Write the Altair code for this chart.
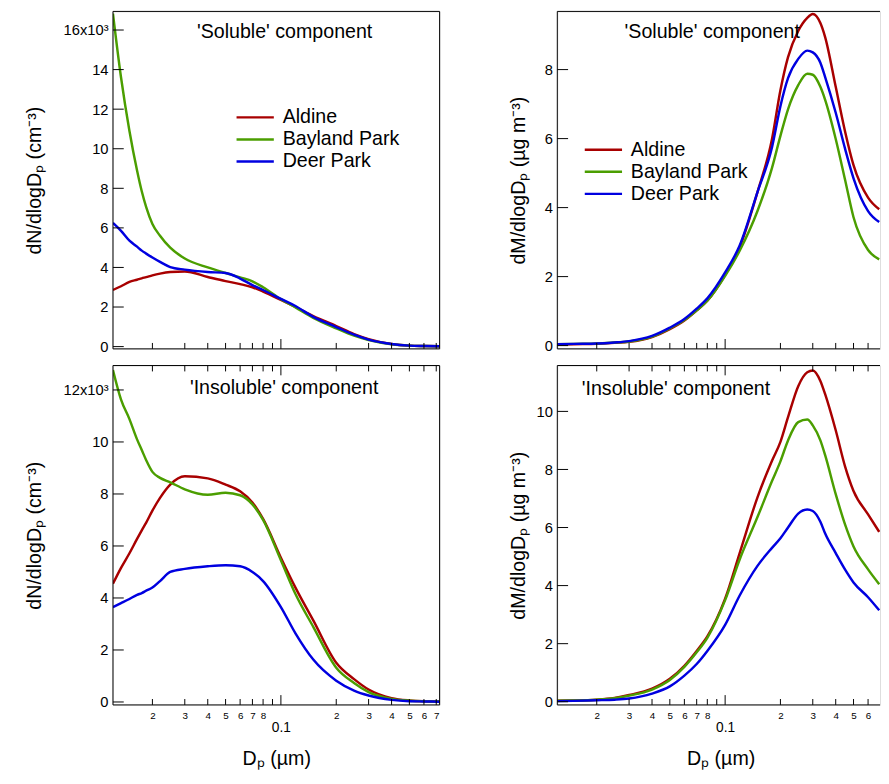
import altair as alt
import pandas as pd

FONT = "Liberation Sans"
SITES = ["Aldine", "Bayland Park", "Deer Park"]
COLORS = ["#a80000", "#4b9e00", "#0000e0"]

# ---------------- data ----------------
# Left top: dN/dlogDp, 'Soluble' component (units of 10^3 cm^-3)
lt_d = [0.0122, 0.0135, 0.015, 0.0165, 0.0175, 0.0185, 0.02, 0.022, 0.025, 0.03, 0.04,
        0.05, 0.06, 0.07, 0.08, 0.1, 0.12, 0.15, 0.2, 0.25, 0.3, 0.4, 0.5, 0.6, 0.73]
lt_aldine = [2.86, 3.05, 3.27, 3.38, 3.45, 3.51, 3.6, 3.69, 3.77, 3.8, 3.52,
             3.31, 3.16, 3.0, 2.78, 2.36, 2.0, 1.54, 1.04, 0.63, 0.38, 0.13, 0.05, 0.03, 0.02]
lt_bayland = [16.83, 13.6, 10.9, 8.9, 7.85, 7.05, 6.2, 5.6, 5.0, 4.45, 4.0,
              3.72, 3.5, 3.3, 3.0, 2.4, 1.98, 1.45, 0.92, 0.55, 0.33, 0.12, 0.05, 0.03, 0.02]
lt_deer = [6.25, 5.85, 5.35, 5.05, 4.85, 4.7, 4.5, 4.28, 4.02, 3.89, 3.77,
           3.72, 3.44, 3.11, 2.86, 2.41, 2.05, 1.5, 0.99, 0.6, 0.35, 0.13, 0.05, 0.03, 0.02]

# Left bottom: dN/dlogDp, 'Insoluble' component (10^3 cm^-3)
lb_d = lt_d
lb_aldine = [4.55, 5.16, 5.72, 6.27, 6.6, 6.9, 7.36, 7.85, 8.36, 8.68, 8.6,
             8.36, 8.1, 7.67, 7.04, 5.55, 4.4, 3.14, 1.51, 0.88, 0.48, 0.15, 0.06, 0.03, 0.02]
lb_bayland = [12.77, 11.63, 10.88, 10.1, 9.69, 9.3, 8.85, 8.62, 8.45, 8.18, 7.97,
              8.05, 7.95, 7.6, 7.0, 5.45, 4.15, 2.89, 1.32, 0.73, 0.38, 0.12, 0.05, 0.03, 0.02]
lb_deer = [3.65, 3.8, 3.96, 4.12, 4.19, 4.28, 4.4, 4.65, 5.0, 5.12, 5.22,
           5.26, 5.22, 5.0, 4.65, 3.65, 2.64, 1.63, 0.82, 0.44, 0.25, 0.08, 0.03, 0.02, 0.01]

# Right top: dM/dlogDp, 'Soluble' component (ug m^-3)
rt_d = [0.0122, 0.015, 0.02, 0.025, 0.03, 0.04, 0.05, 0.06, 0.07, 0.08, 0.1, 0.12,
        0.15, 0.18, 0.2, 0.22, 0.25, 0.28, 0.3, 0.33, 0.35, 0.4, 0.45, 0.5, 0.6, 0.69]
rt_aldine = [0.03, 0.04, 0.05, 0.08, 0.11, 0.25, 0.48, 0.73, 1.02, 1.3, 2.05, 2.85,
             4.45, 5.99, 7.4, 8.36, 9.12, 9.5, 9.61, 9.35, 8.95, 7.5, 6.2, 5.23, 4.29, 3.95]
rt_bayland = [0.04, 0.05, 0.06, 0.09, 0.12, 0.26, 0.5, 0.74, 1.02, 1.3, 2.02, 2.75,
              3.9, 5.15, 6.08, 6.85, 7.55, 7.88, 7.85, 7.5, 7.13, 5.99, 4.8, 3.72, 2.77, 2.5]
rt_deer = [0.04, 0.05, 0.06, 0.09, 0.13, 0.28, 0.52, 0.77, 1.07, 1.37, 2.12, 2.9,
           4.45, 5.75, 6.94, 7.75, 8.31, 8.55, 8.5, 8.2, 7.79, 6.75, 5.7, 4.85, 3.9, 3.58]

# Right bottom: dM/dlogDp, 'Insoluble' component (ug m^-3)
rb_d = rt_d
rb_aldine = [0.03, 0.04, 0.07, 0.13, 0.23, 0.45, 0.79, 1.24, 1.75, 2.25, 3.55, 5.12,
             7.04, 8.3, 8.95, 9.8, 10.87, 11.35, 11.41, 11.05, 10.6, 9.35, 8.1, 7.26, 6.45, 5.85]
rb_bayland = [0.03, 0.04, 0.07, 0.12, 0.21, 0.42, 0.75, 1.2, 1.7, 2.2, 3.5, 4.9,
              6.36, 7.6, 8.28, 9.0, 9.63, 9.72, 9.52, 9.0, 8.5, 7.15, 6.1, 5.35, 4.56, 4.05]
rb_deer = [0.02, 0.03, 0.05, 0.07, 0.11, 0.28, 0.53, 0.9, 1.3, 1.75, 2.65, 3.66,
           4.68, 5.3, 5.63, 6.0, 6.48, 6.62, 6.57, 6.2, 5.8, 5.12, 4.55, 4.11, 3.6, 3.15]

# axis ticks
X_MIN = 0.0122
X_MAX_LEFT = 0.73
X_MAX_RIGHT = 0.697
x_minor = [0.02, 0.03, 0.04, 0.05, 0.06, 0.07, 0.08, 0.09, 0.2, 0.3, 0.4, 0.5, 0.6, 0.7]
x_major = [0.1]
x_labels = [0.02, 0.03, 0.04, 0.05, 0.06, 0.07, 0.08, 0.09, 0.1, 0.2, 0.3, 0.4, 0.5, 0.6, 0.7]

lt_yticks = [0, 2, 4, 6, 8, 10, 12, 14, 16]
lb_yticks = [0, 2, 4, 6, 8, 10, 12]
rt_yticks = [0, 2, 4, 6, 8]
rb_yticks = [0, 2, 4, 6, 8, 10]

X_TITLE = "Dₚ (µm)"
N_TITLE = "dN/dlogDₚ (cm⁻³)"
M_TITLE = "dM/dlogDₚ (µg m⁻³)"

X_LABEL_EXPR = ("datum.value == 0.1 ? ['', '0.1'] : datum.value == 0.09 ? '' : "
                "datum.value < 0.1 ? format(datum.value * 100, '.0f') : format(datum.value * 10, '.0f')")


def panel(d, series, W, H, xmax, ydom, yvals, ylabel_expr, ytitle, ytitle_x,
          title, title_xy, legend_xy, bottom_axis, top_ticks, right_frame):
    rows = []
    for s, vals in zip(SITES, series):
        for dd, v in zip(d, vals):
            rows.append({"site": s, "d": dd, "v": v})
    df = pd.DataFrame(rows)
    xs = alt.Scale(type="log", domain=[X_MIN, xmax], nice=False)
    ys = alt.Scale(domain=ydom, nice=False, zero=False)
    minor = [t for t in x_minor if t <= xmax]
    labs = [t for t in x_labels if t <= xmax]

    if bottom_axis:
        xaxis = alt.Axis(values=labs, labelExpr=X_LABEL_EXPR, ticks=False, tickSize=0,
                         domain=False, grid=False, labelOverlap=False, labelFlush=False,
                         labelBound=False, labelBaseline="top", labelPadding=5.5,
                         labelLineHeight=11, labelFont=FONT, labelColor="black",
                         labelFontSize={"condition": {"test": "datum.value == 0.1", "value": 14},
                                        "value": 10},
                         title=X_TITLE, titleFont=FONT, titleFontSize=20,
                         titleFontWeight="normal", titleColor="black",
                         titleX=166.5, titleY=55, titleAlign="center", titleBaseline="middle")
    else:
        xaxis = None
    yaxis = alt.Axis(values=yvals, labelExpr=ylabel_expr, ticks=False, tickSize=0,
                     domain=False, grid=False, labelPadding=5, labelFontSize=15,
                     labelFont=FONT, labelColor="black", labelOverlap=False,
                     labelBound=False, labelFlush=False,
                     title=ytitle, titleFont=FONT, titleFontSize=20, titleFontWeight="normal",
                     titleColor="black", titleAngle=270, titleAlign="center",
                     titleBaseline="middle", titleX=ytitle_x, titleY=H / 2)

    lines = alt.Chart(df).mark_line(strokeWidth=2.5, interpolate="monotone", clip=True).encode(
        x=alt.X("d:Q", scale=xs, axis=xaxis),
        y=alt.Y("v:Q", scale=ys, axis=yaxis),
        color=alt.Color("site:N", scale=alt.Scale(domain=SITES, range=COLORS), legend=None),
    )
    layers = [lines]

    one = pd.DataFrame({"k": [0]})
    ytick_df = pd.DataFrame({"v": yvals})
    layers.append(alt.Chart(ytick_df).mark_rule(color="black", strokeWidth=1).encode(
        y=alt.Y("v:Q", scale=ys, axis=yaxis), x=alt.value(0), x2=alt.value(11)))

    minor_df = pd.DataFrame({"d": minor})
    major_df = pd.DataFrame({"d": x_major})
    layers.append(alt.Chart(minor_df).mark_rule(color="black", strokeWidth=1).encode(
        x=alt.X("d:Q", scale=xs, axis=xaxis), y=alt.value(H), y2=alt.value(H - 6)))
    layers.append(alt.Chart(major_df).mark_rule(color="black", strokeWidth=1).encode(
        x=alt.X("d:Q", scale=xs, axis=xaxis), y=alt.value(H), y2=alt.value(H - 10)))
    if top_ticks:
        layers.append(alt.Chart(minor_df).mark_rule(color="black", strokeWidth=1).encode(
            x=alt.X("d:Q", scale=xs, axis=xaxis), y=alt.value(0), y2=alt.value(6)))
        layers.append(alt.Chart(major_df).mark_rule(color="black", strokeWidth=1).encode(
            x=alt.X("d:Q", scale=xs, axis=xaxis), y=alt.value(0), y2=alt.value(10)))

    # frame
    layers.append(alt.Chart(one).mark_rule(color="black", strokeWidth=1).encode(
        x=alt.value(0), x2=alt.value(W), y=alt.value(0)))
    layers.append(alt.Chart(one).mark_rule(color="black", strokeWidth=1).encode(
        x=alt.value(0), x2=alt.value(W), y=alt.value(H)))
    layers.append(alt.Chart(one).mark_rule(color="black", strokeWidth=1).encode(
        x=alt.value(0), y=alt.value(0), y2=alt.value(H)))
    if right_frame:
        layers.append(alt.Chart(one).mark_rule(color="black", strokeWidth=1).encode(
            x=alt.value(W), y=alt.value(0), y2=alt.value(H)))

    # in-panel title
    layers.append(alt.Chart(one).mark_text(font=FONT, fontSize=20, align="center",
                                           baseline="middle", color="black").encode(
        x=alt.value(title_xy[0]), y=alt.value(title_xy[1]), text=alt.value(title)))

    # legend
    if legend_xy is not None:
        lx, ly = legend_xy
        for i, (s, c) in enumerate(zip(SITES, COLORS)):
            yy = ly + i * 22.5
            layers.append(alt.Chart(one).mark_rule(color=c, strokeWidth=2.5).encode(
                x=alt.value(lx), x2=alt.value(lx + 38), y=alt.value(yy)))
            layers.append(alt.Chart(one).mark_text(font=FONT, fontSize=20, align="left",
                                                   baseline="middle", color="black").encode(
                x=alt.value(lx + 47), y=alt.value(yy), text=alt.value(s)))

    return alt.layer(*layers).properties(width=W, height=H)


N_TOP_EXPR = "datum.value == 16 ? '16x10³' : format(datum.value, 'd')"
N_BOT_EXPR = "datum.value == 12 ? '12x10³' : format(datum.value, 'd')"
M_EXPR = "format(datum.value, 'd')"

WL, WR = 333, 329
HT, HB = 344, 346

tl = panel(lt_d, [lt_aldine, lt_bayland, lt_deer], WL, HT, X_MAX_LEFT, [-0.114, 16.94],
           lt_yticks, N_TOP_EXPR, N_TITLE, -80, "'Soluble' component", (175, 21),
           (126, 108), False, False, True)
tr = panel(rt_d, [rt_aldine, rt_bayland, rt_deer], WR, HT, X_MAX_RIGHT, [-0.094, 9.686],
           rt_yticks, M_EXPR, M_TITLE, -39, "'Soluble' component", (158, 21),
           (28, 141), False, False, False)
bl = panel(lb_d, [lb_aldine, lb_bayland, lb_deer], WL, HB, X_MAX_LEFT, [-0.113, 12.94],
           lb_yticks, N_BOT_EXPR, N_TITLE, -80, "'Insoluble' component", (174.5, 23),
           None, True, True, True)
br = panel(rb_d, [rb_aldine, rb_bayland, rb_deer], WR, HB, X_MAX_RIGHT, [-0.11, 11.58],
           rb_yticks, M_EXPR, M_TITLE, -39, "'Insoluble' component", (121, 24),
           None, True, True, False)

top = alt.hconcat(tl, tr, spacing=69)
bot = alt.hconcat(bl, br, spacing=69)
chart = (
    alt.vconcat(top, bot, spacing=9)
    .properties(padding={"left": 16, "top": -5, "right": 0, "bottom": 0})
    .configure_view(stroke=None)
    .configure(font=FONT)
)

chart.save("out.html", embed_options={"renderer": "svg", "actions": False})
